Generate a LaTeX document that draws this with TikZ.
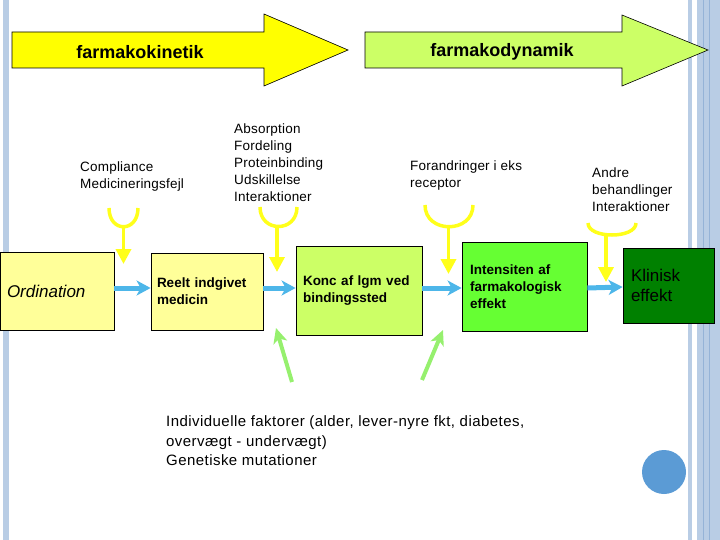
\documentclass[tikz,border=0pt]{standalone}
\usepackage{fontspec}
\setmainfont{Liberation Sans}
\newfontfamily\wideserif[LetterSpace=3]{Liberation Sans}
\newfontfamily\notespaced[LetterSpace=1.5]{Liberation Sans}
\usetikzlibrary{arrows.meta}
\definecolor{barblue}{HTML}{B9CDE5}
\definecolor{bardark}{HTML}{95B3D7}
\definecolor{arrowyellow}{HTML}{FFFF00}
\definecolor{arrowlime}{HTML}{CCFF66}
\definecolor{paleyellow}{HTML}{FFFF99}
\definecolor{konclime}{HTML}{CCFF66}
\definecolor{brightgreen}{HTML}{66FF33}
\definecolor{darkgreen}{HTML}{008000}
\definecolor{flowblue}{HTML}{4DB6E9}
\definecolor{linkyellow}{HTML}{FFFF1A}
\definecolor{linkgreen}{HTML}{96F06E}
\definecolor{dotblue}{HTML}{5B9BD5}
\tikzset{
  box/.style={draw=black, line width=0.8pt, rectangle, inner xsep=7pt, inner ysep=0pt, align=left,
    font=\fontsize{13.5}{17}\selectfont\bfseries},
  flow/.style={draw=flowblue, line width=5pt, -{Stealth[length=14pt,width=15pt,inset=4pt]}},
  ylink/.style={draw=linkyellow, line width=3.5pt, -{Triangle[length=15pt,width=15pt]}},
  ucurve/.style={draw=linkyellow, line width=3.5pt},
  glink/.style={draw=linkgreen, line width=4pt, -{Stealth[length=15pt,width=14pt,inset=4pt]}},
  note/.style={inner sep=0pt, anchor=west, align=left, font=\notespaced\fontsize{13.5}{17}\selectfont},
  banner/.style={draw=black, line width=0.6pt},
  bannertext/.style={inner sep=0pt, font=\fontsize{18}{20}\selectfont\bfseries}
}
\begin{document}
\begin{tikzpicture}[x=1pt, y=-1pt]
\useasboundingbox (0,0) rectangle (720,540);
% side bars
\fill[barblue] (3,0) rectangle (9,540);
\fill[barblue] (688,0) rectangle (692,540);
\fill[barblue] (697,0) rectangle (720,540);
\draw[bardark, line width=1pt] (703,0) -- (703,540);
\draw[bardark, line width=0.6pt] (709,0) -- (709,540);
% banner arrows
\path[banner, fill=arrowyellow] (12,32) -- (264,32) -- (264,14) -- (348,50) -- (264,86) -- (264,68) -- (12,68) -- cycle;
\node[bannertext] (pk) at (140,52) {farmakokinetik};
\path[banner, fill=arrowlime] (365,32) -- (622,32) -- (622,15) -- (708,50) -- (622,86) -- (622,68) -- (365,68) -- cycle;
\node[bannertext] (pd) at (502,52) {farmakodynamik};
% notes
\node[note] (n1) at (80,176.5) {Compliance\\Medicineringsfejl};
\node[note] (n2) at (234,162.5) {Absorption\\Fordeling\\Proteinbinding\\Udskillelse\\Interaktioner};
\node[note] (n3) at (410,175.5) {Forandringer i eks\\receptor};
\node[note] (n4) at (592,189.5) {Andre\\behandlinger\\Interaktioner};
\node[note, font=\wideserif\fontsize{15}{19.5}\selectfont] (n5) at (166,441) {Individuelle faktorer (alder, lever-nyre fkt, diabetes,\\overvægt - undervægt)\\Genetiske mutationer};
% boxes
\node[box, fill=paleyellow, minimum width=114pt, text width=100pt, minimum height=78pt, font=\fontsize{17}{19}\selectfont\itshape] (ord) at (57,291) {Ordination};
\node[box, fill=paleyellow, minimum width=112pt, text width=100pt, minimum height=77pt, inner xsep=6pt] (reelt) at (207,291.5) {Reelt indgivet\\medicin};
\node[box, fill=konclime, minimum width=126pt, text width=112pt, minimum height=89pt] (konc) at (359,290.5) {Konc af lgm ved\\bindingssted};
\node[box, fill=brightgreen, minimum width=125pt, text width=109pt, minimum height=89pt, inner xsep=8pt] (int) at (524.5,286.5) {Intensiten af\\farmakologisk\\effekt};
\node[box, fill=darkgreen, minimum width=91pt, text width=75pt, minimum height=75pt, inner xsep=8pt, font=\fontsize{17}{19.5}\selectfont] (klin) at (668.5,285.5) {Klinisk\\effekt};
% flow arrows
\draw[flow] ([yshift=3pt]ord.east) -- ([yshift=3.5pt]reelt.west);
\draw[flow] ([yshift=3.5pt]reelt.east) -- ([yshift=2.5pt]konc.west);
\draw[flow] ([yshift=2.5pt]konc.east) -- ([yshift=-1.5pt]int.west);
\draw[flow] ([yshift=-1.5pt]int.east) -- ([yshift=-1.5pt]klin.west);
% yellow brackets
\coordinate (u1) at (123.5,227); \coordinate (t1) at (123.5,264);
\coordinate (u2) at (277,227); \coordinate (t2) at (277,272);
\coordinate (u3) at (448.5,228); \coordinate (t3) at (448.5,274);
\coordinate (u4) at (606,235); \coordinate (t4) at (606,282);
\draw[ucurve] (109,208) .. controls (109,233) and (138,233) .. (138,208);
\draw[ucurve] (260,207) .. controls (260,233) and (297,233) .. (297,207);
\draw[ucurve] (425,205) .. controls (425,234) and (473,234) .. (473,205);
\draw[ucurve] (588,223) .. controls (588,239) and (636,239) .. (636,223);
\draw[ylink] (u1) -- (t1);
\draw[ylink] (u2) -- (t2);
\draw[ylink] (u3) -- (t3);
\draw[ylink] (u4) -- (t4);
% green arrows
\coordinate (g1s) at (292,382); \coordinate (g1e) at (276,328);
\coordinate (g2s) at (422,380); \coordinate (g2e) at (443,330);
\draw[glink] (g1s) -- (g1e);
\draw[glink] (g2s) -- (g2e);
% dot
\fill[dotblue] (664,472) circle (22pt);
\end{tikzpicture}
\end{document}
